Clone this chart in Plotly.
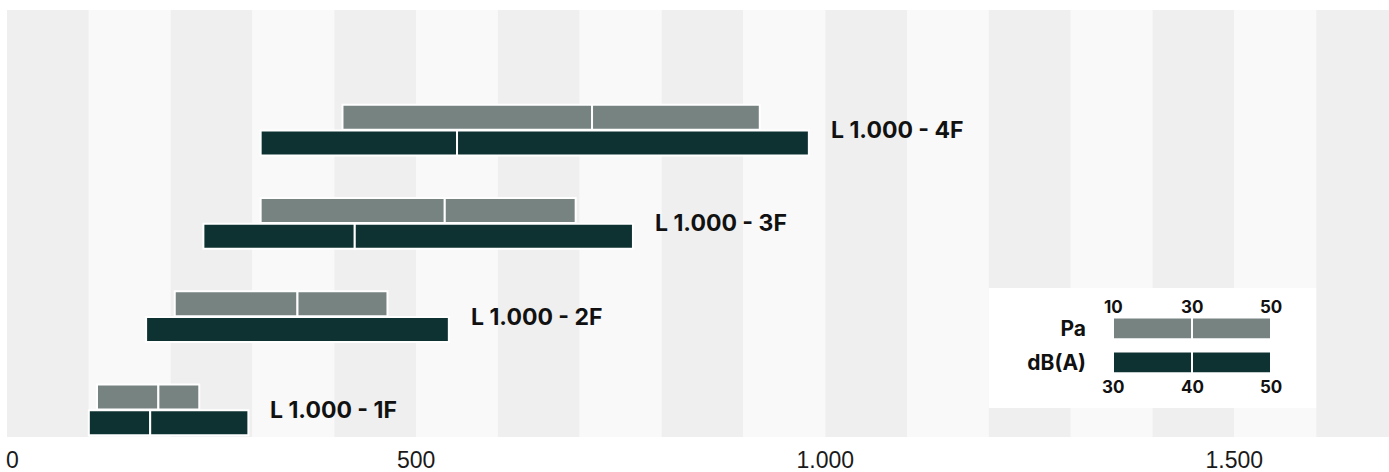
import plotly.graph_objects as go

# Data
models = ["L 1.000 - 1F", "L 1.000 - 2F", "L 1.000 - 3F", "L 1.000 - 4F"]
pa_start = [110, 205, 310, 410]
pa_mid = [185, 355, 535, 715]
pa_end = [235, 465, 695, 920]
db_start = [100, 170, 240, 310]
db_mid = [175, None, 425, 550]
db_end = [295, 540, 765, 980]

legend_pa = [10, 30, 50]
legend_db = [30, 40, 50]

x_ticks = [0, 500, 1000, 1500]
x_tick_text = ["0", "500", "1.000", "1.500"]

PA_COLOR = "#768381"
DB_COLOR = "#0e3231"
BAND_A = "#efefef"
BAND_B = "#f9f9f9"
LABEL_FONT = "Inter, 'Noto Sans', sans-serif"
TICK_FONT = dict(family="Liberation Sans, Arial, sans-serif", size=23, color="#1a1a1a")

pos = list(range(len(models)))
off = 0.138
bw = 0.268


def segments(start, mid, end):
    first_len, second_base, second_len = [], [], []
    for s, m, e in zip(start, mid, end):
        if m is None:
            first_len.append(e - s)
            second_base.append(s)
            second_len.append(None)
        else:
            first_len.append(m - s)
            second_base.append(m)
            second_len.append(e - m)
    return first_len, second_base, second_len


fig = go.Figure()

for start, mid, end, color, dy in [(pa_start, pa_mid, pa_end, PA_COLOR, off),
                                   (db_start, db_mid, db_end, DB_COLOR, -off)]:
    l1, b2, l2 = segments(start, mid, end)
    yv = [p + dy for p in pos]
    fig.add_trace(go.Bar(y=yv, x=l1, base=start, orientation="h", width=bw,
                         marker=dict(color=color, line=dict(color="white", width=2)),
                         showlegend=False, hoverinfo="skip"))
    fig.add_trace(go.Bar(y=yv, x=l2, base=b2, orientation="h", width=bw,
                         marker=dict(color=color, line=dict(color="white", width=2)),
                         showlegend=False, hoverinfo="skip"))

# model labels
for p, name, pe, de in zip(pos, models, pa_end, db_end):
    fig.add_annotation(x=max(pe, de), y=p, text=f"<b>{name}</b>", showarrow=False,
                       xanchor="left", xshift=20, font=dict(family=LABEL_FONT, size=23, color="#111"))

# first tick label sits inside the left edge
fig.add_annotation(x=x_ticks[0], y=0, yref="paper", text=x_tick_text[0], showarrow=False,
                   xanchor="left", yanchor="top", xshift=-3, yshift=-8, font=TICK_FONT)

# legend key on a second pair of axes
leg_y = ["dB(A)", "Pa"]
db_on_pa = [legend_pa[0] + (v - legend_db[0]) * (legend_pa[-1] - legend_pa[0]) / (legend_db[-1] - legend_db[0])
            for v in legend_db]
for vals, color, row in [(legend_pa, PA_COLOR, "Pa"), (db_on_pa, DB_COLOR, "dB(A)")]:
    for a, b in zip(vals[:-1], vals[1:]):
        fig.add_trace(go.Bar(y=[row], x=[b - a], base=[a], orientation="h", width=0.64,
                             xaxis="x2", yaxis="y2",
                             marker=dict(color=color, line=dict(color="white", width=2)),
                             showlegend=False, hoverinfo="skip"))
for v in legend_pa:
    fig.add_annotation(x=v, y=1.63, xref="x2", yref="y2", text=f"<b>{v}</b>", showarrow=False,
                       font=dict(family=LABEL_FONT, size=17, color="#111"))
for v, lbl in zip(db_on_pa, legend_db):
    fig.add_annotation(x=v, y=-0.72, xref="x2", yref="y2", text=f"<b>{lbl}</b>", showarrow=False,
                       font=dict(family=LABEL_FONT, size=17, color="#111"))

# background bands
shapes = []
for i, x0 in enumerate(range(0, 1700, 100)):
    shapes.append(dict(type="rect", xref="x", yref="paper", x0=x0, x1=x0 + 100, y0=0, y1=1,
                       fillcolor=BAND_A if i % 2 == 0 else BAND_B, line=dict(width=0), layer="below"))
shapes.append(dict(type="rect", xref="x", yref="y2 domain", x0=1200, x1=1600, y0=0, y1=1,
                   fillcolor="white", line=dict(width=0), layer="below"))

W, H = 1389, 472
ml, mt, mb = 7, 10, 35
pw, ph = W - ml, H - mt - mb


def px_x(v):
    return (v - ml) / pw


def px_y(v):
    return (H - mb - v) / ph


fig.update_layout(
    width=W, height=H,
    margin=dict(l=ml, r=0, t=mt, b=mb),
    paper_bgcolor="white", plot_bgcolor="white",
    barmode="overlay",
    separators=",.",
    shapes=shapes,
    xaxis=dict(range=[0, 1689], tickvals=x_ticks[1:], ticktext=x_tick_text[1:], showgrid=False,
               zeroline=False, showline=False, ticks="", fixedrange=True, automargin=False,
               ticklabelstandoff=7, tickfont=TICK_FONT),
    yaxis=dict(range=[-0.29, 4.287], visible=False, fixedrange=True, automargin=False),
    xaxis2=dict(domain=[px_x(1113), px_x(1271)], range=[legend_pa[0], legend_pa[-1]], anchor="y2",
                visible=False, fixedrange=True, automargin=False),
    yaxis2=dict(domain=[px_y(408), px_y(288)], anchor="x2", type="category", categoryorder="array",
                categoryarray=leg_y, range=[-1.338, 2.19], showgrid=False, zeroline=False, ticks="",
                ticklabelstandoff=26, fixedrange=True, automargin=False,
                tickfont=dict(family=LABEL_FONT, size=21, color="#111", weight="bold")),
)

fig.write_html("out.html", config={"displayModeBar": False},
               post_script="document.body.style.margin='0';document.body.style.padding='0';")
